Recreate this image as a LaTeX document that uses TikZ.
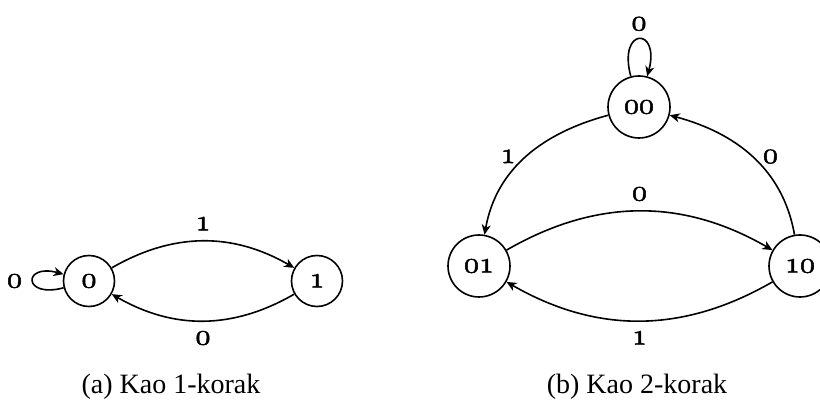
\documentclass[tikz,border=0pt]{standalone}
\usepackage{fontspec}
\newfontfamily\capfont{Liberation Serif}
\usetikzlibrary{arrows.meta}
\DeclareFontShape{OML}{cmm}{m}{it}{<->cmmi10}{\skewchar\font=127}
\newcommand\osdigits[1]{{\usefont{OML}{cmm}{m}{it}\special{pdf:literal direct 2 Tr 0.5 w}#1\special{pdf:literal direct 0 Tr}}}
\tikzset{
  state/.style={circle, draw, line width=1.6pt, inner sep=0pt, font=\fontsize{30}{30}\selectfont},
  smallstate/.style={state, minimum size=51pt},
  bigstate/.style={state, minimum size=62pt},
  edge/.style={line width=1.6pt, -{Stealth[length=10pt,width=9pt,inset=3pt]}},
  elabel/.style={inner sep=3pt, font=\fontsize{30}{30}\selectfont},
  caption/.style={anchor=base, font=\capfont\fontsize{28}{30}\selectfont},
}
\begin{document}
\begin{tikzpicture}[x=1pt,y=-1pt]
\useasboundingbox (0,0) rectangle (820,403);
% (a)
\node[smallstate] (n0) at (89,281) {\osdigits{0}};
\node[smallstate] (n1) at (317,281) {\osdigits{1}};
\draw[edge] (n0) to[loop left] node[elabel, left=7pt] (la0) {\osdigits{0}} (n0);
\draw[edge] (n0) to[bend left=30] node[elabel, above=7pt] (la1) {\osdigits{1}} (n1);
\draw[edge] (n1) to[bend left=30] node[elabel, below=7pt] (la2) {\osdigits{0}} (n0);
% (b)
\node[bigstate] (b00) at (639,107) {\osdigits{00}};
\node[bigstate] (b01) at (479,266) {\osdigits{01}};
\node[bigstate] (b10) at (800,266) {\osdigits{10}};
\draw[edge] (b00) to[loop above] node[elabel, above=5pt] (lb0) {\osdigits{0}} (b00);
\draw[edge] (b00) to[out=195, in=80] node[elabel, left=7pt] (lb1) {\osdigits{1}} (b01);
\draw[edge] (b10) to[out=100, in=-15] node[elabel, right=7pt] (lb2) {\osdigits{0}} (b00);
\draw[edge] (b01) to[bend left=30] node[elabel, above=7pt] (lb3) {\osdigits{0}} (b10);
\draw[edge] (b10) to[bend left=30] node[elabel, below=7pt] (lb4) {\osdigits{1}} (b01);
% captions
\node[caption] (capa) at (171,394) {(a) Kao 1-korak};
\node[caption] (capb) at (637,394) {(b) Kao 2-korak};
\end{tikzpicture}
\end{document}
